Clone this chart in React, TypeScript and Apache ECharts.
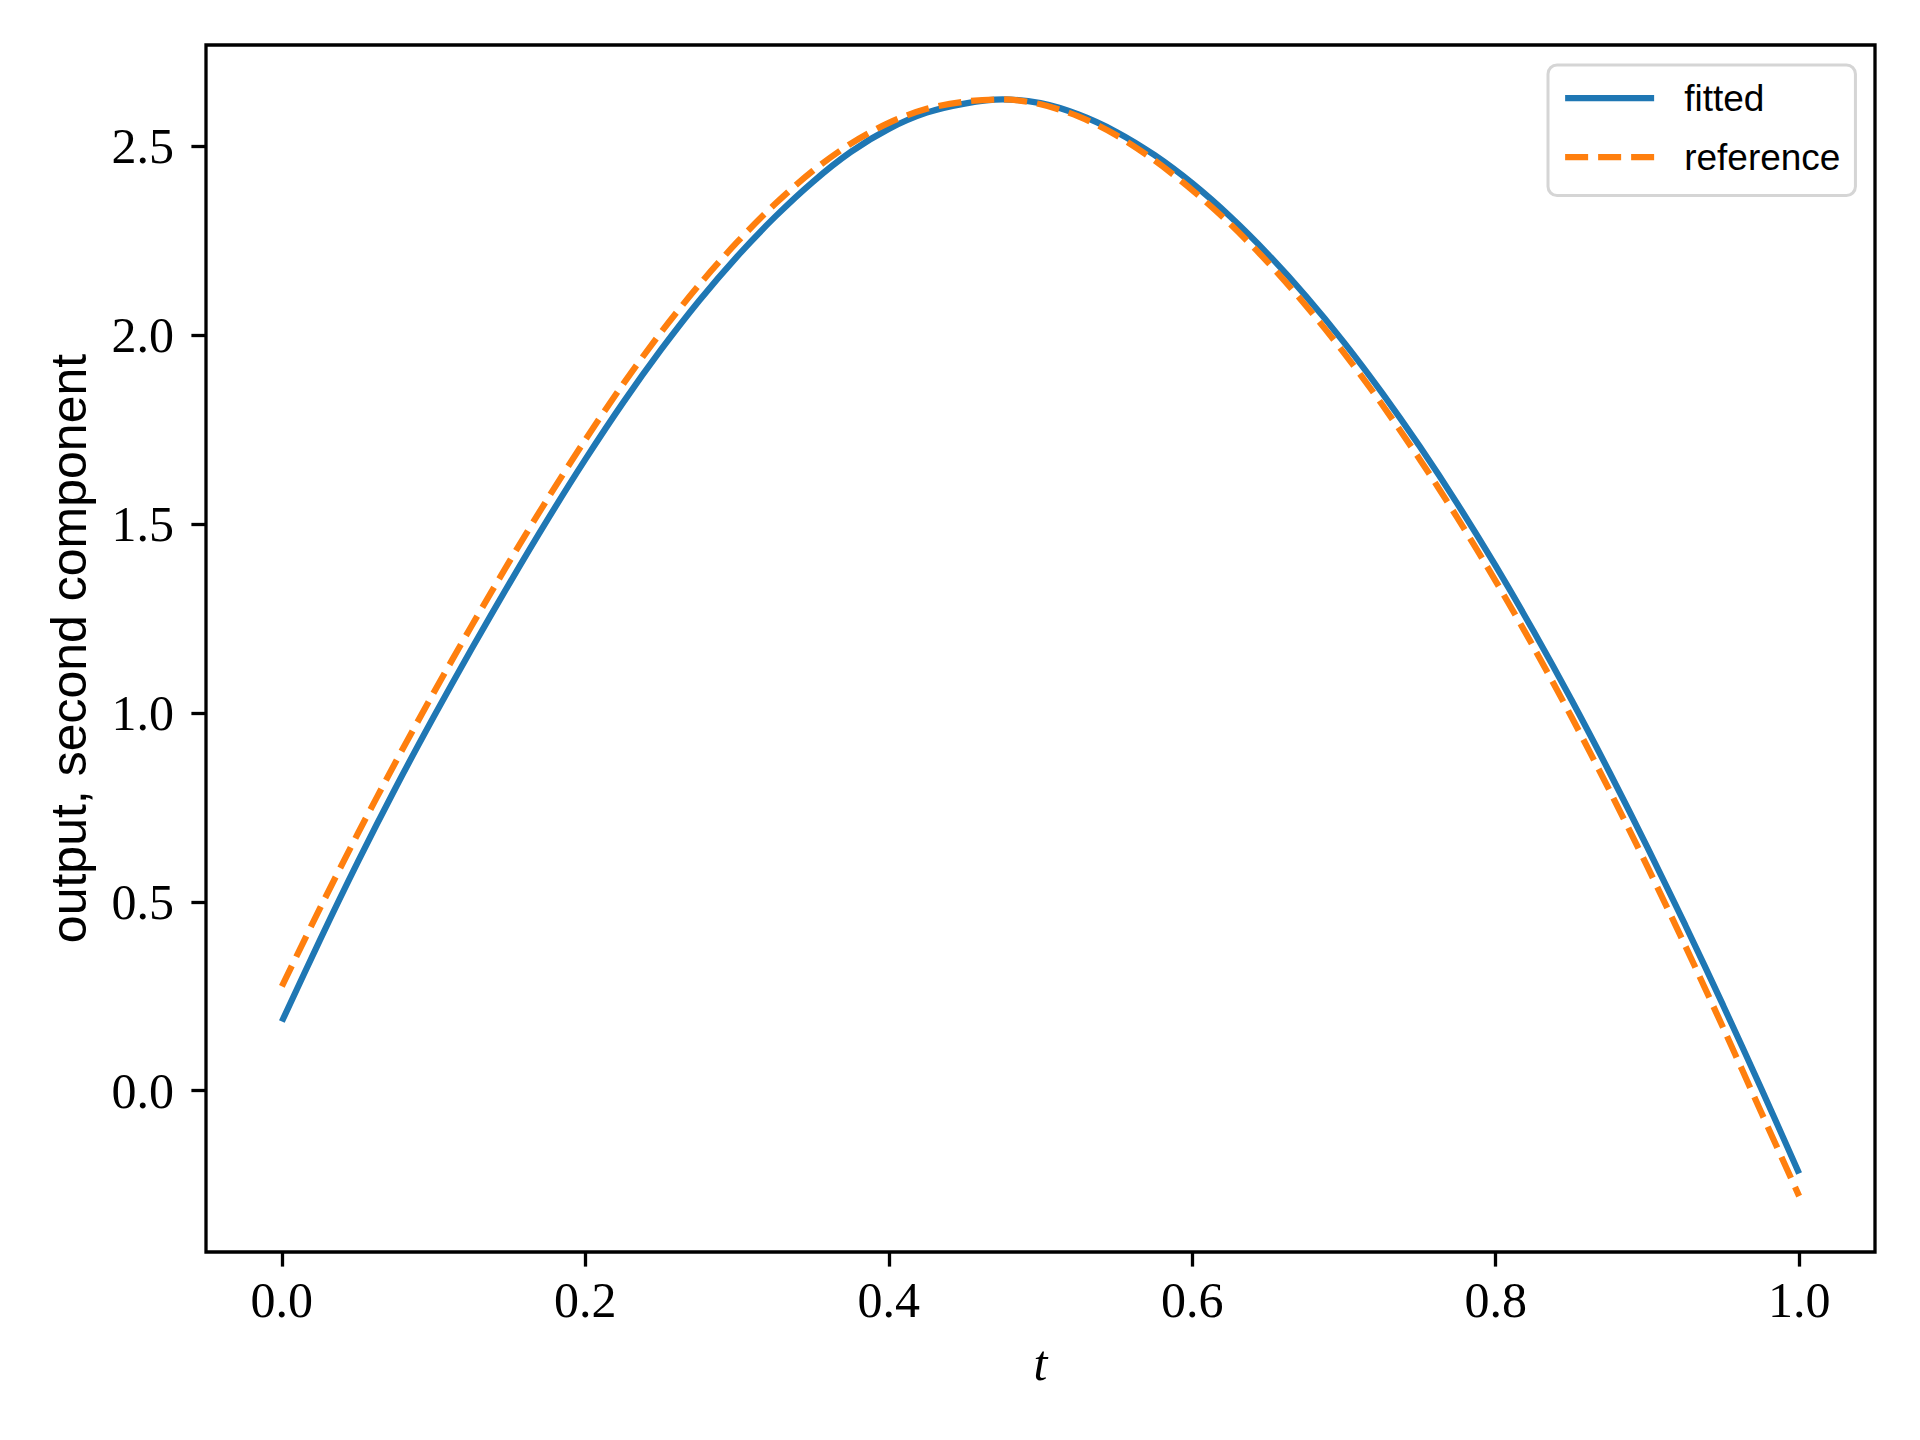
import React, { useEffect, useRef } from "react";
import * as echarts from "echarts";

// sample positions along t
const tValues = [
  0, 0.025, 0.05, 0.075, 0.1, 0.125, 0.15, 0.175, 0.2, 0.225, 0.25, 0.275, 0.3, 0.325, 0.35, 0.375, 0.4, 0.425, 0.45, 0.475,
  0.5, 0.525, 0.55, 0.575, 0.6, 0.625, 0.65, 0.675, 0.7, 0.725, 0.75, 0.775, 0.8, 0.825, 0.85, 0.875, 0.9, 0.925, 0.95, 0.975, 1.0,
];
// fitted curve (solid blue)
const fittedValues = [
  0.183, 0.398, 0.605, 0.802, 0.989, 1.169, 1.343, 1.511, 1.671, 1.822, 1.962, 2.091, 2.208, 2.313, 2.406, 2.485, 2.546, 2.589, 2.613, 2.624,
  2.614, 2.584, 2.538, 2.477, 2.402, 2.314, 2.214, 2.103, 1.981, 1.848, 1.705, 1.552, 1.389, 1.216, 1.034, 0.843, 0.644, 0.438, 0.225, 0.006, -0.219,
];
// reference curve (dashed orange)
const referenceValues = [
  0.276, 0.482, 0.68, 0.87, 1.053, 1.23, 1.401, 1.566, 1.723, 1.871, 2.008, 2.133, 2.246, 2.347, 2.435, 2.507, 2.562, 2.599, 2.618, 2.624,
  2.611, 2.579, 2.529, 2.463, 2.384, 2.294, 2.192, 2.078, 1.953, 1.817, 1.671, 1.515, 1.349, 1.174, 0.989, 0.795, 0.593, 0.383, 0.166, -0.057, -0.279,
];

const xTicks = [0, 0.2, 0.4, 0.6, 0.8, 1.0];
const yTicks = [0, 0.5, 1.0, 1.5, 2.0, 2.5];

const seriesNames = ["fitted", "reference"];
const xLabel = "t";
const yLabel = "output, second component";

export default function App() {
  const ref = useRef<HTMLDivElement>(null);

  useEffect(() => {
    if (!ref.current) return;
    const chart = echarts.init(ref.current, null, { renderer: "svg" });
    const serif = "'Liberation Serif', 'Times New Roman', serif";
    const sans = "'Liberation Sans', Arial, sans-serif";
    const tickStyle = { color: "#000", width: 3.3 };

    chart.setOption({
      animation: false,
      backgroundColor: "#ffffff",
      grid: {
        left: 206,
        top: 45,
        width: 1669,
        height: 1207,
        show: true,
        borderColor: "#000",
        borderWidth: 3.3,
        backgroundColor: "transparent",
      },
      legend: {
        show: true,
        orient: "vertical",
        left: 1548,
        top: 65,
        data: seriesNames,
        itemWidth: 89,
        itemHeight: 40,
        itemGap: 22,
        padding: [14.5, 15, 20, 14],
        borderColor: "#d5d5d5",
        borderWidth: 3,
        borderRadius: 9,
        backgroundColor: "#ffffff",
        itemStyle: { color: "transparent", borderWidth: 0, opacity: 0 },
        lineStyle: { width: "inherit", type: "inherit", cap: "butt" },
        textStyle: {
          fontFamily: sans,
          fontSize: 37,
          color: "#000",
          padding: [0, 0, 0, 25],
        },
      },
      xAxis: {
        type: "value",
        min: -0.05,
        max: 1.05,
        name: xLabel,
        nameLocation: "middle",
        nameGap: 86,
        nameTextStyle: {
          fontFamily: serif,
          fontStyle: "italic",
          fontSize: 50,
          color: "#000",
        },
        axisLine: { show: false, onZero: false },
        splitLine: { show: false },
        axisTick: {
          show: true,
          length: 14.6,
          inside: false,
          lineStyle: tickStyle,
          customValues: xTicks,
        },
        axisLabel: {
          show: true,
          margin: 23,
          fontFamily: serif,
          fontSize: 50,
          color: "#000",
          customValues: xTicks,
          formatter: (v: number) => v.toFixed(1),
        },
      },
      yAxis: {
        type: "value",
        min: -0.427,
        max: 2.768,
        name: yLabel,
        nameLocation: "middle",
        nameGap: 112,
        nameTextStyle: {
          fontFamily: sans,
          fontSize: 50,
          color: "#000",
        },
        axisLine: { show: false, onZero: false },
        splitLine: { show: false },
        axisTick: {
          show: true,
          length: 14.6,
          inside: false,
          lineStyle: tickStyle,
          customValues: yTicks,
        },
        axisLabel: {
          show: true,
          margin: 32,
          fontFamily: serif,
          fontSize: 50,
          color: "#000",
          customValues: yTicks,
          formatter: (v: number) => v.toFixed(1),
        },
      },
      series: [
        {
          name: seriesNames[0],
          type: "line",
          data: tValues.map((t, i) => [t, fittedValues[i]]),
          symbol: "none",
          showSymbol: false,
          smooth: 0.3,
          lineStyle: { color: "#1f77b4", width: 6.25, cap: "butt" },
          itemStyle: { color: "#1f77b4" },
          z: 2,
        },
        {
          name: seriesNames[1],
          type: "line",
          data: tValues.map((t, i) => [t, referenceValues[i]]),
          symbol: "none",
          showSymbol: false,
          smooth: 0.3,
          lineStyle: { color: "#ff7f0e", width: 6.25, type: [23, 10], cap: "butt" },
          itemStyle: { color: "#ff7f0e" },
          z: 3,
        },
      ],
    });

    return () => chart.dispose();
  }, []);

  return (
    <div
      ref={ref}
      style={{ position: "absolute", left: 0, top: 0, width: 1920, height: 1440, background: "#fff" }}
    />
  );
}
